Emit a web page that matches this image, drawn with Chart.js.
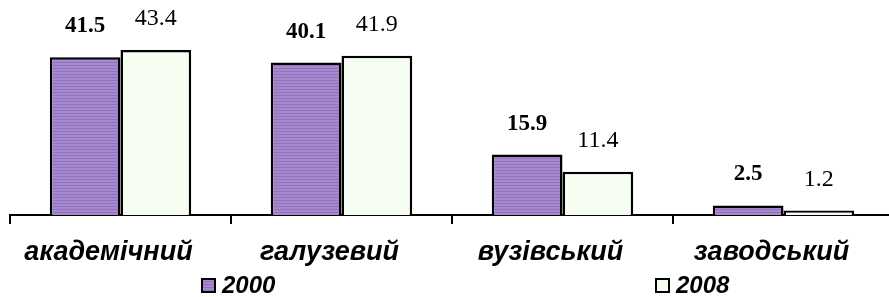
<!DOCTYPE html>
<html>
<head>
<meta charset="utf-8">
<script src="https://cdn.jsdelivr.net/npm/chart.js@4"></script>
<style>
html,body{margin:0;padding:0;background:#fff;overflow:hidden}
#okvir{width:894px;height:297px;position:relative}
</style>
</head>
<body>
<div id="okvir"><canvas id="grafik"></canvas></div>
<script>
var kategorii = ['академічний', 'галузевий', 'вузівський', 'заводський'];
var roky = ['2000', '2008'];
var dani2000 = [41.5, 40.1, 15.9, 2.5];
var dani2008 = [43.4, 41.9, 11.4, 1.2];

// smuhasta zalyvka dlja 2000
function smuhy(){
    var c = document.createElement('canvas');
    c.width = 4; c.height = 3;
    var x = c.getContext('2d');
    x.fillStyle = '#a688cf';
    x.fillRect(0, 0, 4, 3);
    x.fillStyle = '#9373bd';
    x.fillRect(0, 2, 4, 1);
    return x.createPattern(c, 'repeat');
}
var purpur = smuhy();
var svitlyj = '#f6fef2';

var pidpysy = {
    id: 'pidpysy',
    afterDatasetsDraw: function(chart){
        var ctx = chart.ctx;
        ctx.save();
        ctx.fillStyle = '#000';
        ctx.textAlign = 'center';
        ctx.textBaseline = 'middle';
        chart.data.datasets.forEach(function(ds, i){
            var meta = chart.getDatasetMeta(i);
            ctx.font = i == 0 ? 'bold 23px "Liberation Serif"' : '24px "Liberation Serif"';
            meta.data.forEach(function(bar, j){
                ctx.fillText(ds.data[j].toFixed(1), bar.x, bar.y - 31);
            });
        });
        ctx.restore();
    }
};

var legenda = {
    id: 'legenda',
    afterDraw: function(chart){
        var ctx = chart.ctx;
        var poz = [201, 655];
        ctx.save();
        ctx.font = 'italic bold 24px "Liberation Sans"';
        ctx.textBaseline = 'middle';
        chart.data.datasets.forEach(function(ds, i){
            ctx.fillStyle = ds.backgroundColor;
            ctx.fillRect(poz[i], 278, 15, 15);
            ctx.strokeStyle = '#000';
            ctx.lineWidth = 2;
            ctx.strokeRect(poz[i] + 1, 279, 13, 13);
            ctx.fillStyle = '#000';
            ctx.fillText(ds.label, poz[i] + 21, 286);
        });
        ctx.restore();
    }
};

new Chart(document.getElementById('grafik'), {
    type: 'bar',
    data: {
        labels: kategorii,
        datasets: [{
            label: roky[0],
            data: dani2000,
            backgroundColor: purpur,
            borderColor: '#000',
            borderWidth: 2.5
        }, {
            label: roky[1],
            data: dani2008,
            backgroundColor: svitlyj,
            borderColor: '#000',
            borderWidth: 2.5
        }]
    },
    options: {
        responsive: true,
        maintainAspectRatio: false,
        animation: false,
        layout: { padding: { left: 10, right: 0, top: 25, bottom: 0 } },
        datasets: { bar: { categoryPercentage: 0.64, barPercentage: 1.0 } },
        plugins: {
            legend: { display: false },
            tooltip: { enabled: false }
        },
        scales: {
            y: { display: false, min: 0, max: 50 },
            x: {
                afterFit: function(s){ s.height = 82; },
                border: { display: true, color: '#000', width: 2 },
                grid: {
                    drawOnChartArea: false,
                    drawTicks: true,
                    tickLength: 9,
                    color: '#000',
                    lineWidth: 2
                },
                ticks: {
                    color: '#000',
                    padding: 12,
                    labelOffset: -12,
                    maxRotation: 0,
                    font: { family: 'Liberation Sans', size: 27, weight: 'bold', style: 'italic' }
                }
            }
        }
    },
    plugins: [pidpysy, legenda]
});
</script>
</body>
</html>
